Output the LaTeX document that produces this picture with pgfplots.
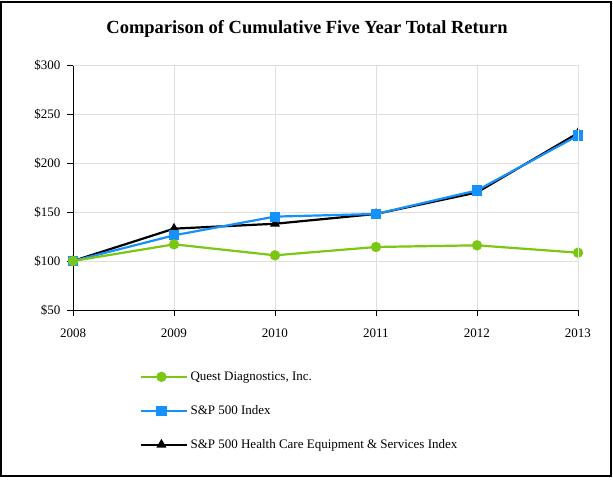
\documentclass[border=0pt]{standalone}
\usepackage{fontspec}
\setmainfont{Liberation Serif}
\usepackage{pgfplots}
\pgfplotsset{compat=1.18}
\definecolor{qgreen}{RGB}{124,198,20}
\definecolor{spblue}{RGB}{22,144,250}
\begin{document}
\begin{tikzpicture}[x=1pt,y=1pt]
\useasboundingbox (0,0) rectangle (613,480);
\draw[line width=1.6pt] (1,4) rectangle (611,478);
\node[font=\fontsize{18.5}{22}\selectfont\bfseries] at (307,451) {Comparison of Cumulative Five Year Total Return};
\begin{axis}[
    at={(73pt,170pt)}, anchor=south west,
    scale only axis, width=505pt, height=245pt,
    xmin=2008, xmax=2013, ymin=50, ymax=300,
    xtick={2008,...,2013}, ytick={50,100,...,300},
    xticklabel style={/pgf/number format/1000 sep={}},
    yticklabel={\$\pgfmathprintnumber{\tick}},
    /pgf/number format/assume math mode=true,
    tick label style={font=\fontsize{13}{15}\selectfont},
    xticklabel style={yshift=-9pt},
    yticklabel style={xshift=-3pt},
    grid=major, major grid style={gray!25, line width=0.8pt},
    axis x line*=bottom, axis y line*=left,
    axis line style={line width=1pt, -},
    tick style={black, line width=0.8pt},
    tick align=outside, major tick length=6pt,
    extra description/.code={
      \draw[gray!25, line width=0.8pt] (0,1) -- (1,1) -- (1,0);
    },
    legend style={at={(0.127,-0.235)}, anchor=north west, draw=none,
      font=\fontsize{13}{15}\selectfont, row sep=19.5pt,
      cells={anchor=west}},
    legend image code/.code={
      \draw[#1] (0pt,0pt) -- (40pt,0pt);
      \draw[#1, only marks] plot coordinates {(20pt,0pt)};
      \path (0pt,0pt) -- (46pt,0pt);
    },
    legend cell align=left,
    reverse legend,
]
\addplot[black, line width=2.2pt, mark=triangle*, mark size=3.6pt, mark options={solid}]
  coordinates {(2008,100) (2009,133) (2010,138) (2011,148) (2012,170) (2013,230.5)};
\addlegendentry{S\&P 500 Health Care Equipment \& Services Index}
\addplot[spblue, line width=2.2pt, mark=square*, mark size=4pt, mark options={solid}]
  coordinates {(2008,100) (2009,126.2) (2010,145.3) (2011,148) (2012,172) (2013,228)};
\addlegendentry{S\&P 500 Index}
\addplot[qgreen, line width=2.2pt, mark=*, mark size=4pt, mark options={solid}]
  coordinates {(2008,100) (2009,117) (2010,105.8) (2011,114.3) (2012,116) (2013,108.5)};
\addlegendentry{Quest Diagnostics, Inc.}
\end{axis}
\end{tikzpicture}
\end{document}
